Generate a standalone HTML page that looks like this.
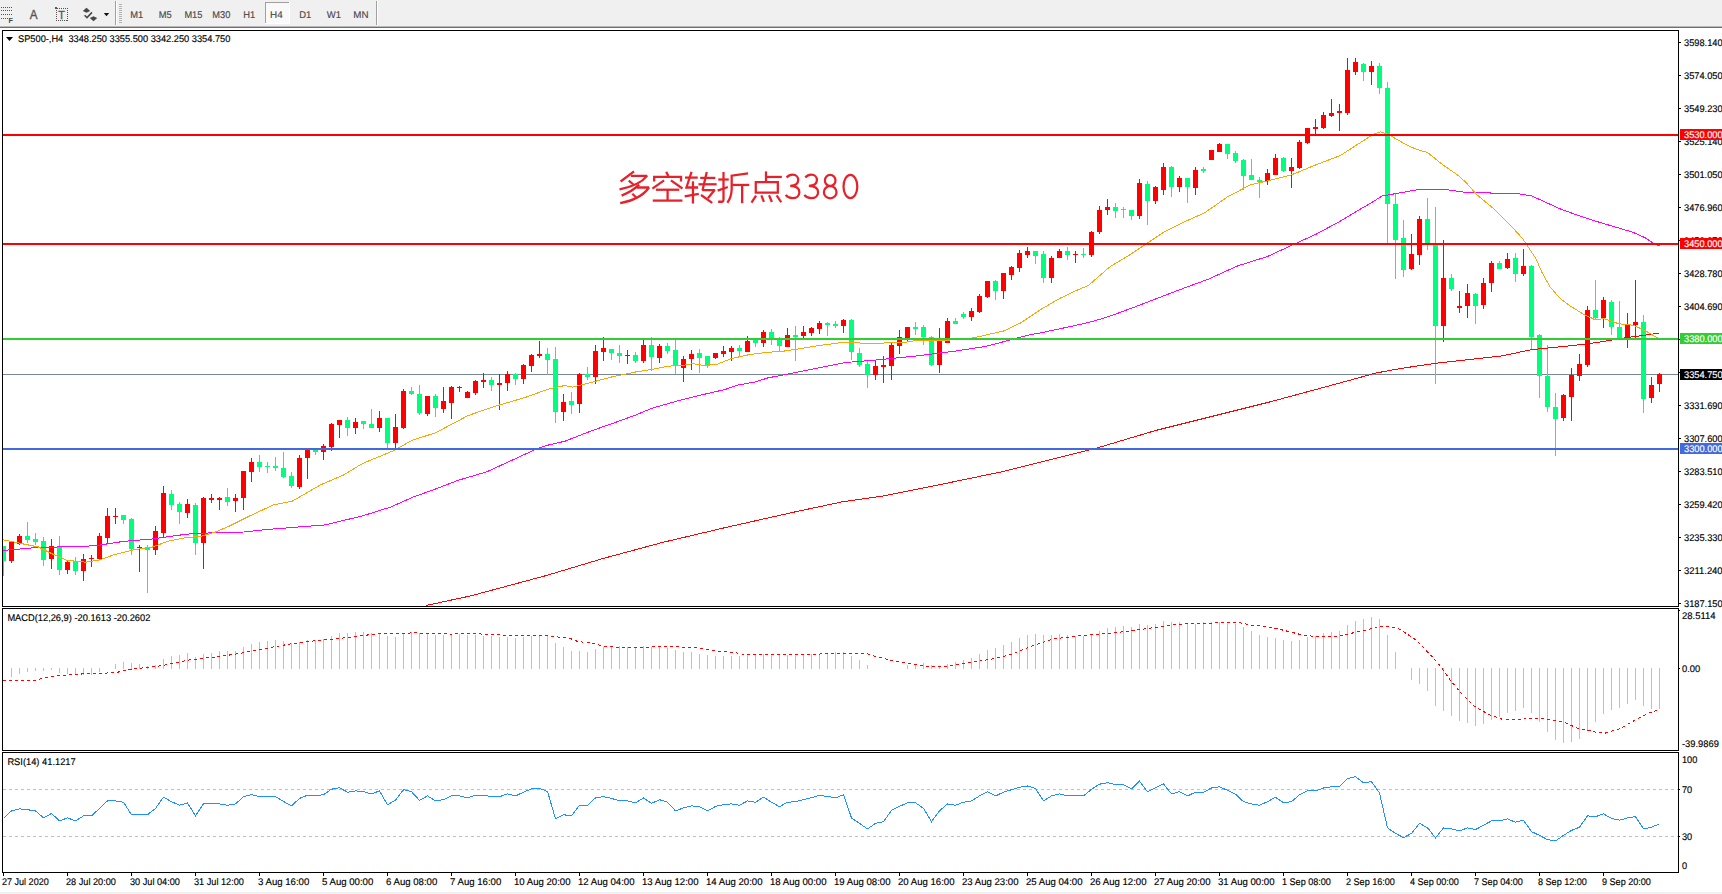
<!DOCTYPE html>
<html><head><meta charset="utf-8"><title>SP500 H4</title>
<style>html,body{margin:0;padding:0;background:#fff;overflow:hidden}svg{display:block}text{font-family:"Liberation Sans",sans-serif;white-space:pre}</style>
</head><body>
<svg width="1722" height="894" viewBox="0 0 1722 894" font-family="Liberation Sans, sans-serif" shape-rendering="crispEdges">
<rect x="0" y="0" width="1722" height="894" fill="#fff"/>
<rect x="0" y="0" width="1722" height="26" fill="#f0f0f0"/>
<rect x="0" y="26" width="1722" height="1" fill="#b9b9b9"/>
<rect x="0" y="27" width="1722" height="1" fill="#6e6e6e"/>
<g shape-rendering="auto">
<g stroke="#555" stroke-width="1" stroke-dasharray="1 1" shape-rendering="crispEdges">
<line x1="1" y1="7.5" x2="13" y2="7.5"/><line x1="1" y1="10.5" x2="13" y2="10.5"/><line x1="1" y1="14.5" x2="13" y2="14.5"/><line x1="1" y1="18.5" x2="8" y2="18.5"/>
<rect x="56.5" y="8.5" width="11" height="12" fill="none"/>
</g>
<text x="8.6" y="23" font-size="7.2" font-weight="bold" fill="#444">F</text>
<text x="29.8" y="19" font-size="12.8" fill="#555" stroke="#555" stroke-width="0.35" textLength="7.8" lengthAdjust="spacingAndGlyphs">A</text>
<text x="58.2" y="18.9" font-size="10.8" fill="#555" stroke="#555" stroke-width="0.3">T</text>
<rect x="55" y="7" width="2" height="2" fill="#555"/>
<path d="M86.5,7.8 L90.2,11 L86.5,12.8 L82.8,11 Z" fill="#484848"/>
<path d="M93.5,21.2 L89.8,18 L93.5,16.2 L97.2,18 Z" fill="#484848"/>
<path d="M84.6,15.2 L87,17.6 L92,12.4" fill="none" stroke="#4a4a4a" stroke-width="1.6"/>
<path d="M103.8,12.9 L109.2,12.9 L106.5,16.3 Z" fill="#111"/>
</g>
<rect x="115" y="1" width="1" height="24" fill="#a0a0a0"/><rect x="116" y="1" width="1" height="24" fill="#fff"/>
<rect x="376" y="1" width="1" height="24" fill="#a0a0a0"/><rect x="377" y="1" width="1" height="24" fill="#fff"/>
<line x1="120.5" y1="4" x2="120.5" y2="23" stroke="#b4b4b4" stroke-width="3" stroke-dasharray="1 1"/>
<rect x="265" y="2" width="25" height="22" fill="#f9f9f9"/>
<rect x="265" y="2" width="25" height="1" fill="#a0a0a0"/><rect x="265" y="2" width="1" height="22" fill="#a0a0a0"/>
<rect x="265" y="23" width="25" height="1" fill="#fff"/><rect x="289" y="2" width="1" height="22" fill="#fff"/>
<g font-size="9.9" fill="#484848" stroke="#484848" stroke-width="0.15" text-rendering="geometricPrecision" shape-rendering="auto">
<text x="130.2" y="18" textLength="13" lengthAdjust="spacingAndGlyphs">M1</text>
<text x="158.7" y="18" textLength="13" lengthAdjust="spacingAndGlyphs">M5</text>
<text x="184.4" y="18" textLength="18" lengthAdjust="spacingAndGlyphs">M15</text>
<text x="212.3" y="18" textLength="18" lengthAdjust="spacingAndGlyphs">M30</text>
<text x="243.2" y="18" textLength="12" lengthAdjust="spacingAndGlyphs">H1</text>
<text x="270.1" y="18" textLength="12.6" lengthAdjust="spacingAndGlyphs">H4</text>
<text x="299.2" y="18" textLength="12" lengthAdjust="spacingAndGlyphs">D1</text>
<text x="326.8" y="18" textLength="14.2" lengthAdjust="spacingAndGlyphs">W1</text>
<text x="353.3" y="18" textLength="15.2" lengthAdjust="spacingAndGlyphs">MN</text>
</g>

<rect x="0" y="892" width="1722" height="2" fill="#f0f0f0"/>
<rect x="2" y="30" width="1677" height="1" fill="#000"/>
<rect x="2" y="30" width="1" height="577" fill="#000"/>
<rect x="2" y="606" width="1677" height="1" fill="#000"/>
<rect x="1678" y="30" width="1" height="577" fill="#000"/>
<rect x="2" y="608" width="1677" height="1" fill="#000"/>
<rect x="2" y="608" width="1" height="143" fill="#000"/>
<rect x="2" y="750" width="1677" height="1" fill="#000"/>
<rect x="1678" y="608" width="1" height="143" fill="#000"/>
<rect x="2" y="752" width="1677" height="1" fill="#000"/>
<rect x="2" y="752" width="1" height="121" fill="#000"/>
<rect x="2" y="872" width="1677" height="1" fill="#000"/>
<rect x="1678" y="752" width="1" height="121" fill="#000"/>
<rect x="3" y="374" width="1675" height="1" fill="#778899"/>
<!--MAIN-->
<rect x="3" y="546" width="1" height="30" fill="#00ff7f"/>
<rect x="3" y="546" width="3" height="15" fill="#00ff7f"/>
<rect x="11" y="541" width="1" height="22" fill="#ff0000"/>
<rect x="9" y="542" width="5" height="19" fill="#ff0000"/>
<rect x="19" y="534" width="1" height="11" fill="#ff0000"/>
<rect x="17" y="536" width="5" height="8" fill="#ff0000"/>
<rect x="27" y="522" width="1" height="21" fill="#00ff7f"/>
<rect x="25" y="536" width="5" height="4" fill="#00ff7f"/>
<rect x="35" y="533" width="1" height="12" fill="#00ff7f"/>
<rect x="33" y="539" width="5" height="3" fill="#00ff7f"/>
<rect x="43" y="537" width="1" height="29" fill="#00ff7f"/>
<rect x="41" y="541" width="5" height="19" fill="#00ff7f"/>
<rect x="51" y="539" width="1" height="30" fill="#ff0000"/>
<rect x="49" y="546" width="5" height="13" fill="#ff0000"/>
<rect x="59" y="536" width="1" height="39" fill="#00ff7f"/>
<rect x="57" y="546" width="5" height="24" fill="#00ff7f"/>
<rect x="67" y="560" width="1" height="14" fill="#ff0000"/>
<rect x="65" y="562" width="5" height="8" fill="#ff0000"/>
<rect x="75" y="557" width="1" height="18" fill="#00ff7f"/>
<rect x="73" y="561" width="5" height="10" fill="#00ff7f"/>
<rect x="83" y="554" width="1" height="27" fill="#ff0000"/>
<rect x="81" y="559" width="5" height="12" fill="#ff0000"/>
<rect x="91" y="555" width="1" height="12" fill="#ff0000"/>
<rect x="89" y="558" width="5" height="1" fill="#ff0000"/>
<rect x="99" y="533" width="1" height="26" fill="#ff0000"/>
<rect x="97" y="536" width="5" height="23" fill="#ff0000"/>
<rect x="107" y="508" width="1" height="35" fill="#ff0000"/>
<rect x="105" y="516" width="5" height="22" fill="#ff0000"/>
<rect x="115" y="508" width="1" height="16" fill="#ff0000"/>
<rect x="113" y="516" width="5" height="1" fill="#ff0000"/>
<rect x="123" y="515" width="1" height="9" fill="#00ff7f"/>
<rect x="121" y="515" width="5" height="5" fill="#00ff7f"/>
<rect x="131" y="518" width="1" height="37" fill="#00ff7f"/>
<rect x="129" y="519" width="5" height="30" fill="#00ff7f"/>
<rect x="139" y="545" width="1" height="27" fill="#ff0000"/>
<rect x="137" y="547" width="5" height="1" fill="#ff0000"/>
<rect x="147" y="545" width="1" height="48" fill="#00ff7f"/>
<rect x="145" y="547" width="5" height="3" fill="#00ff7f"/>
<rect x="155" y="526" width="1" height="29" fill="#ff0000"/>
<rect x="153" y="531" width="5" height="19" fill="#ff0000"/>
<rect x="163" y="486" width="1" height="51" fill="#ff0000"/>
<rect x="161" y="493" width="5" height="40" fill="#ff0000"/>
<rect x="171" y="490" width="1" height="20" fill="#00ff7f"/>
<rect x="169" y="494" width="5" height="11" fill="#00ff7f"/>
<rect x="179" y="502" width="1" height="22" fill="#00ff7f"/>
<rect x="177" y="504" width="5" height="8" fill="#00ff7f"/>
<rect x="187" y="499" width="1" height="19" fill="#ff0000"/>
<rect x="185" y="504" width="5" height="9" fill="#ff0000"/>
<rect x="195" y="503" width="1" height="52" fill="#00ff7f"/>
<rect x="193" y="505" width="5" height="38" fill="#00ff7f"/>
<rect x="203" y="497" width="1" height="72" fill="#ff0000"/>
<rect x="201" y="498" width="5" height="45" fill="#ff0000"/>
<rect x="211" y="494" width="1" height="9" fill="#ff0000"/>
<rect x="209" y="498" width="5" height="2" fill="#ff0000"/>
<rect x="219" y="497" width="1" height="13" fill="#ff0000"/>
<rect x="217" y="498" width="5" height="2" fill="#ff0000"/>
<rect x="227" y="488" width="1" height="18" fill="#00ff7f"/>
<rect x="225" y="497" width="5" height="5" fill="#00ff7f"/>
<rect x="235" y="494" width="1" height="18" fill="#ff0000"/>
<rect x="233" y="498" width="5" height="3" fill="#ff0000"/>
<rect x="243" y="471" width="1" height="39" fill="#ff0000"/>
<rect x="241" y="471" width="5" height="27" fill="#ff0000"/>
<rect x="251" y="458" width="1" height="24" fill="#ff0000"/>
<rect x="249" y="462" width="5" height="10" fill="#ff0000"/>
<rect x="259" y="455" width="1" height="17" fill="#00ff7f"/>
<rect x="257" y="462" width="5" height="5" fill="#00ff7f"/>
<rect x="267" y="462" width="1" height="11" fill="#00ff7f"/>
<rect x="265" y="466" width="5" height="1" fill="#00ff7f"/>
<rect x="275" y="457" width="1" height="14" fill="#00ff7f"/>
<rect x="273" y="466" width="5" height="2" fill="#00ff7f"/>
<rect x="283" y="452" width="1" height="26" fill="#00ff7f"/>
<rect x="281" y="468" width="5" height="9" fill="#00ff7f"/>
<rect x="291" y="472" width="1" height="16" fill="#00ff7f"/>
<rect x="289" y="476" width="5" height="10" fill="#00ff7f"/>
<rect x="299" y="455" width="1" height="34" fill="#ff0000"/>
<rect x="297" y="458" width="5" height="29" fill="#ff0000"/>
<rect x="307" y="450" width="1" height="29" fill="#ff0000"/>
<rect x="305" y="450" width="5" height="8" fill="#ff0000"/>
<rect x="315" y="450" width="1" height="5" fill="#00ff7f"/>
<rect x="313" y="450" width="5" height="2" fill="#00ff7f"/>
<rect x="323" y="444" width="1" height="16" fill="#ff0000"/>
<rect x="321" y="446" width="5" height="6" fill="#ff0000"/>
<rect x="331" y="423" width="1" height="28" fill="#ff0000"/>
<rect x="329" y="424" width="5" height="23" fill="#ff0000"/>
<rect x="339" y="420" width="1" height="18" fill="#ff0000"/>
<rect x="337" y="420" width="5" height="5" fill="#ff0000"/>
<rect x="347" y="417" width="1" height="19" fill="#00ff7f"/>
<rect x="345" y="420" width="5" height="8" fill="#00ff7f"/>
<rect x="355" y="418" width="1" height="16" fill="#ff0000"/>
<rect x="353" y="422" width="5" height="6" fill="#ff0000"/>
<rect x="363" y="421" width="1" height="8" fill="#00ff7f"/>
<rect x="361" y="421" width="5" height="3" fill="#00ff7f"/>
<rect x="371" y="409" width="1" height="19" fill="#00ff7f"/>
<rect x="369" y="424" width="5" height="4" fill="#00ff7f"/>
<rect x="379" y="411" width="1" height="21" fill="#ff0000"/>
<rect x="377" y="418" width="5" height="10" fill="#ff0000"/>
<rect x="387" y="418" width="1" height="30" fill="#00ff7f"/>
<rect x="385" y="418" width="5" height="25" fill="#00ff7f"/>
<rect x="395" y="414" width="1" height="34" fill="#ff0000"/>
<rect x="393" y="427" width="5" height="16" fill="#ff0000"/>
<rect x="403" y="389" width="1" height="40" fill="#ff0000"/>
<rect x="401" y="391" width="5" height="37" fill="#ff0000"/>
<rect x="411" y="387" width="1" height="8" fill="#00ff7f"/>
<rect x="409" y="391" width="5" height="3" fill="#00ff7f"/>
<rect x="419" y="385" width="1" height="30" fill="#00ff7f"/>
<rect x="417" y="394" width="5" height="19" fill="#00ff7f"/>
<rect x="427" y="396" width="1" height="20" fill="#ff0000"/>
<rect x="425" y="396" width="5" height="18" fill="#ff0000"/>
<rect x="435" y="394" width="1" height="23" fill="#00ff7f"/>
<rect x="433" y="396" width="5" height="12" fill="#00ff7f"/>
<rect x="443" y="387" width="1" height="26" fill="#ff0000"/>
<rect x="441" y="401" width="5" height="8" fill="#ff0000"/>
<rect x="451" y="386" width="1" height="33" fill="#ff0000"/>
<rect x="449" y="387" width="5" height="16" fill="#ff0000"/>
<rect x="459" y="386" width="1" height="6" fill="#ff0000"/>
<rect x="457" y="387" width="5" height="1" fill="#ff0000"/>
<rect x="467" y="391" width="1" height="7" fill="#ff0000"/>
<rect x="465" y="392" width="5" height="6" fill="#ff0000"/>
<rect x="475" y="380" width="1" height="15" fill="#ff0000"/>
<rect x="473" y="381" width="5" height="12" fill="#ff0000"/>
<rect x="483" y="373" width="1" height="15" fill="#ff0000"/>
<rect x="481" y="380" width="5" height="2" fill="#ff0000"/>
<rect x="491" y="377" width="1" height="14" fill="#00ff7f"/>
<rect x="489" y="380" width="5" height="5" fill="#00ff7f"/>
<rect x="499" y="374" width="1" height="36" fill="#ff0000"/>
<rect x="497" y="383" width="5" height="2" fill="#ff0000"/>
<rect x="507" y="371" width="1" height="20" fill="#ff0000"/>
<rect x="505" y="374" width="5" height="9" fill="#ff0000"/>
<rect x="515" y="373" width="1" height="12" fill="#00ff7f"/>
<rect x="513" y="374" width="5" height="5" fill="#00ff7f"/>
<rect x="523" y="364" width="1" height="20" fill="#ff0000"/>
<rect x="521" y="365" width="5" height="14" fill="#ff0000"/>
<rect x="531" y="354" width="1" height="18" fill="#ff0000"/>
<rect x="529" y="355" width="5" height="11" fill="#ff0000"/>
<rect x="539" y="341" width="1" height="17" fill="#ff0000"/>
<rect x="537" y="354" width="5" height="2" fill="#ff0000"/>
<rect x="547" y="348" width="1" height="27" fill="#00ff7f"/>
<rect x="545" y="354" width="5" height="6" fill="#00ff7f"/>
<rect x="555" y="347" width="1" height="76" fill="#00ff7f"/>
<rect x="553" y="359" width="5" height="53" fill="#00ff7f"/>
<rect x="563" y="394" width="1" height="27" fill="#ff0000"/>
<rect x="561" y="402" width="5" height="10" fill="#ff0000"/>
<rect x="571" y="392" width="1" height="22" fill="#00ff7f"/>
<rect x="569" y="401" width="5" height="4" fill="#00ff7f"/>
<rect x="579" y="373" width="1" height="40" fill="#ff0000"/>
<rect x="577" y="374" width="5" height="30" fill="#ff0000"/>
<rect x="587" y="367" width="1" height="13" fill="#00ff7f"/>
<rect x="585" y="374" width="5" height="3" fill="#00ff7f"/>
<rect x="595" y="345" width="1" height="39" fill="#ff0000"/>
<rect x="593" y="351" width="5" height="26" fill="#ff0000"/>
<rect x="603" y="337" width="1" height="24" fill="#ff0000"/>
<rect x="601" y="348" width="5" height="4" fill="#ff0000"/>
<rect x="611" y="349" width="1" height="11" fill="#00ff7f"/>
<rect x="609" y="349" width="5" height="4" fill="#00ff7f"/>
<rect x="619" y="345" width="1" height="18" fill="#00ff7f"/>
<rect x="617" y="353" width="5" height="3" fill="#00ff7f"/>
<rect x="627" y="350" width="1" height="14" fill="#ff0000"/>
<rect x="625" y="355" width="5" height="1" fill="#ff0000"/>
<rect x="635" y="352" width="1" height="11" fill="#00ff7f"/>
<rect x="633" y="355" width="5" height="6" fill="#00ff7f"/>
<rect x="643" y="340" width="1" height="23" fill="#ff0000"/>
<rect x="641" y="345" width="5" height="16" fill="#ff0000"/>
<rect x="651" y="337" width="1" height="34" fill="#00ff7f"/>
<rect x="649" y="345" width="5" height="12" fill="#00ff7f"/>
<rect x="659" y="344" width="1" height="19" fill="#ff0000"/>
<rect x="657" y="346" width="5" height="12" fill="#ff0000"/>
<rect x="667" y="343" width="1" height="11" fill="#00ff7f"/>
<rect x="665" y="346" width="5" height="5" fill="#00ff7f"/>
<rect x="675" y="340" width="1" height="34" fill="#00ff7f"/>
<rect x="673" y="350" width="5" height="16" fill="#00ff7f"/>
<rect x="683" y="356" width="1" height="26" fill="#ff0000"/>
<rect x="681" y="359" width="5" height="9" fill="#ff0000"/>
<rect x="691" y="350" width="1" height="20" fill="#ff0000"/>
<rect x="689" y="354" width="5" height="5" fill="#ff0000"/>
<rect x="699" y="349" width="1" height="24" fill="#00ff7f"/>
<rect x="697" y="353" width="5" height="5" fill="#00ff7f"/>
<rect x="707" y="356" width="1" height="12" fill="#00ff7f"/>
<rect x="705" y="356" width="5" height="10" fill="#00ff7f"/>
<rect x="715" y="353" width="1" height="6" fill="#ff0000"/>
<rect x="713" y="353" width="5" height="5" fill="#ff0000"/>
<rect x="723" y="346" width="1" height="11" fill="#ff0000"/>
<rect x="721" y="351" width="5" height="3" fill="#ff0000"/>
<rect x="731" y="346" width="1" height="15" fill="#ff0000"/>
<rect x="729" y="348" width="5" height="4" fill="#ff0000"/>
<rect x="739" y="345" width="1" height="11" fill="#00ff7f"/>
<rect x="737" y="348" width="5" height="3" fill="#00ff7f"/>
<rect x="747" y="336" width="1" height="16" fill="#ff0000"/>
<rect x="745" y="341" width="5" height="11" fill="#ff0000"/>
<rect x="755" y="340" width="1" height="7" fill="#00ff7f"/>
<rect x="753" y="340" width="5" height="3" fill="#00ff7f"/>
<rect x="763" y="330" width="1" height="17" fill="#ff0000"/>
<rect x="761" y="332" width="5" height="11" fill="#ff0000"/>
<rect x="771" y="329" width="1" height="16" fill="#00ff7f"/>
<rect x="769" y="332" width="5" height="7" fill="#00ff7f"/>
<rect x="779" y="337" width="1" height="14" fill="#00ff7f"/>
<rect x="777" y="340" width="5" height="6" fill="#00ff7f"/>
<rect x="787" y="328" width="1" height="19" fill="#ff0000"/>
<rect x="785" y="335" width="5" height="12" fill="#ff0000"/>
<rect x="795" y="326" width="1" height="35" fill="#00ff7f"/>
<rect x="793" y="335" width="5" height="2" fill="#00ff7f"/>
<rect x="803" y="326" width="1" height="12" fill="#ff0000"/>
<rect x="801" y="332" width="5" height="4" fill="#ff0000"/>
<rect x="811" y="327" width="1" height="9" fill="#ff0000"/>
<rect x="809" y="328" width="5" height="5" fill="#ff0000"/>
<rect x="819" y="321" width="1" height="13" fill="#ff0000"/>
<rect x="817" y="323" width="5" height="6" fill="#ff0000"/>
<rect x="827" y="322" width="1" height="14" fill="#00ff7f"/>
<rect x="825" y="323" width="5" height="2" fill="#00ff7f"/>
<rect x="835" y="321" width="1" height="7" fill="#00ff7f"/>
<rect x="833" y="324" width="5" height="2" fill="#00ff7f"/>
<rect x="843" y="319" width="1" height="14" fill="#ff0000"/>
<rect x="841" y="320" width="5" height="6" fill="#ff0000"/>
<rect x="851" y="319" width="1" height="41" fill="#00ff7f"/>
<rect x="849" y="320" width="5" height="32" fill="#00ff7f"/>
<rect x="859" y="348" width="1" height="19" fill="#00ff7f"/>
<rect x="857" y="353" width="5" height="12" fill="#00ff7f"/>
<rect x="867" y="361" width="1" height="27" fill="#00ff7f"/>
<rect x="865" y="364" width="5" height="11" fill="#00ff7f"/>
<rect x="875" y="361" width="1" height="19" fill="#ff0000"/>
<rect x="873" y="366" width="5" height="9" fill="#ff0000"/>
<rect x="883" y="356" width="1" height="27" fill="#ff0000"/>
<rect x="881" y="365" width="5" height="2" fill="#ff0000"/>
<rect x="891" y="343" width="1" height="37" fill="#ff0000"/>
<rect x="889" y="345" width="5" height="21" fill="#ff0000"/>
<rect x="899" y="330" width="1" height="24" fill="#ff0000"/>
<rect x="897" y="337" width="5" height="9" fill="#ff0000"/>
<rect x="907" y="327" width="1" height="14" fill="#ff0000"/>
<rect x="905" y="327" width="5" height="12" fill="#ff0000"/>
<rect x="915" y="322" width="1" height="13" fill="#00ff7f"/>
<rect x="913" y="327" width="5" height="2" fill="#00ff7f"/>
<rect x="923" y="325" width="1" height="20" fill="#00ff7f"/>
<rect x="921" y="327" width="5" height="10" fill="#00ff7f"/>
<rect x="931" y="336" width="1" height="30" fill="#00ff7f"/>
<rect x="929" y="337" width="5" height="28" fill="#00ff7f"/>
<rect x="939" y="328" width="1" height="45" fill="#ff0000"/>
<rect x="937" y="341" width="5" height="24" fill="#ff0000"/>
<rect x="947" y="318" width="1" height="25" fill="#ff0000"/>
<rect x="945" y="321" width="5" height="22" fill="#ff0000"/>
<rect x="955" y="318" width="1" height="6" fill="#00ff7f"/>
<rect x="953" y="321" width="5" height="3" fill="#00ff7f"/>
<rect x="963" y="312" width="1" height="7" fill="#00ff7f"/>
<rect x="961" y="314" width="5" height="3" fill="#00ff7f"/>
<rect x="971" y="308" width="1" height="13" fill="#ff0000"/>
<rect x="969" y="311" width="5" height="6" fill="#ff0000"/>
<rect x="979" y="294" width="1" height="19" fill="#ff0000"/>
<rect x="977" y="296" width="5" height="16" fill="#ff0000"/>
<rect x="987" y="281" width="1" height="17" fill="#ff0000"/>
<rect x="985" y="281" width="5" height="16" fill="#ff0000"/>
<rect x="995" y="280" width="1" height="20" fill="#00ff7f"/>
<rect x="993" y="281" width="5" height="10" fill="#00ff7f"/>
<rect x="1003" y="273" width="1" height="26" fill="#ff0000"/>
<rect x="1001" y="273" width="5" height="18" fill="#ff0000"/>
<rect x="1011" y="266" width="1" height="14" fill="#ff0000"/>
<rect x="1009" y="267" width="5" height="8" fill="#ff0000"/>
<rect x="1019" y="250" width="1" height="22" fill="#ff0000"/>
<rect x="1017" y="253" width="5" height="15" fill="#ff0000"/>
<rect x="1027" y="247" width="1" height="11" fill="#ff0000"/>
<rect x="1025" y="251" width="5" height="4" fill="#ff0000"/>
<rect x="1035" y="251" width="1" height="13" fill="#00ff7f"/>
<rect x="1033" y="251" width="5" height="5" fill="#00ff7f"/>
<rect x="1043" y="251" width="1" height="32" fill="#00ff7f"/>
<rect x="1041" y="254" width="5" height="24" fill="#00ff7f"/>
<rect x="1051" y="256" width="1" height="27" fill="#ff0000"/>
<rect x="1049" y="258" width="5" height="20" fill="#ff0000"/>
<rect x="1059" y="249" width="1" height="9" fill="#ff0000"/>
<rect x="1057" y="251" width="5" height="7" fill="#ff0000"/>
<rect x="1067" y="247" width="1" height="13" fill="#00ff7f"/>
<rect x="1065" y="251" width="5" height="4" fill="#00ff7f"/>
<rect x="1075" y="251" width="1" height="12" fill="#ff0000"/>
<rect x="1073" y="254" width="5" height="1" fill="#ff0000"/>
<rect x="1083" y="248" width="1" height="10" fill="#00ff7f"/>
<rect x="1081" y="254" width="5" height="1" fill="#00ff7f"/>
<rect x="1091" y="231" width="1" height="26" fill="#ff0000"/>
<rect x="1089" y="232" width="5" height="23" fill="#ff0000"/>
<rect x="1099" y="206" width="1" height="28" fill="#ff0000"/>
<rect x="1097" y="210" width="5" height="22" fill="#ff0000"/>
<rect x="1107" y="199" width="1" height="16" fill="#ff0000"/>
<rect x="1105" y="207" width="5" height="3" fill="#ff0000"/>
<rect x="1115" y="203" width="1" height="15" fill="#00ff7f"/>
<rect x="1113" y="207" width="5" height="4" fill="#00ff7f"/>
<rect x="1123" y="207" width="1" height="11" fill="#00ff7f"/>
<rect x="1121" y="209" width="5" height="1" fill="#00ff7f"/>
<rect x="1131" y="210" width="1" height="10" fill="#00ff7f"/>
<rect x="1129" y="210" width="5" height="6" fill="#00ff7f"/>
<rect x="1139" y="179" width="1" height="40" fill="#ff0000"/>
<rect x="1137" y="183" width="5" height="33" fill="#ff0000"/>
<rect x="1147" y="181" width="1" height="44" fill="#00ff7f"/>
<rect x="1145" y="184" width="5" height="17" fill="#00ff7f"/>
<rect x="1155" y="186" width="1" height="18" fill="#ff0000"/>
<rect x="1153" y="187" width="5" height="14" fill="#ff0000"/>
<rect x="1163" y="163" width="1" height="32" fill="#ff0000"/>
<rect x="1161" y="167" width="5" height="23" fill="#ff0000"/>
<rect x="1171" y="166" width="1" height="31" fill="#00ff7f"/>
<rect x="1169" y="167" width="5" height="20" fill="#00ff7f"/>
<rect x="1179" y="176" width="1" height="16" fill="#ff0000"/>
<rect x="1177" y="178" width="5" height="9" fill="#ff0000"/>
<rect x="1187" y="178" width="1" height="25" fill="#00ff7f"/>
<rect x="1185" y="178" width="5" height="9" fill="#00ff7f"/>
<rect x="1195" y="167" width="1" height="28" fill="#ff0000"/>
<rect x="1193" y="170" width="5" height="18" fill="#ff0000"/>
<rect x="1203" y="167" width="1" height="6" fill="#00ff7f"/>
<rect x="1201" y="169" width="5" height="2" fill="#00ff7f"/>
<rect x="1211" y="150" width="1" height="10" fill="#ff0000"/>
<rect x="1209" y="150" width="5" height="10" fill="#ff0000"/>
<rect x="1219" y="143" width="1" height="9" fill="#ff0000"/>
<rect x="1217" y="144" width="5" height="8" fill="#ff0000"/>
<rect x="1227" y="144" width="1" height="15" fill="#00ff7f"/>
<rect x="1225" y="144" width="5" height="10" fill="#00ff7f"/>
<rect x="1235" y="151" width="1" height="12" fill="#00ff7f"/>
<rect x="1233" y="153" width="5" height="8" fill="#00ff7f"/>
<rect x="1243" y="159" width="1" height="31" fill="#00ff7f"/>
<rect x="1241" y="160" width="5" height="16" fill="#00ff7f"/>
<rect x="1251" y="159" width="1" height="21" fill="#00ff7f"/>
<rect x="1249" y="175" width="5" height="5" fill="#00ff7f"/>
<rect x="1259" y="177" width="1" height="21" fill="#00ff7f"/>
<rect x="1257" y="180" width="5" height="2" fill="#00ff7f"/>
<rect x="1267" y="169" width="1" height="16" fill="#ff0000"/>
<rect x="1265" y="173" width="5" height="8" fill="#ff0000"/>
<rect x="1275" y="154" width="1" height="21" fill="#ff0000"/>
<rect x="1273" y="158" width="5" height="17" fill="#ff0000"/>
<rect x="1283" y="157" width="1" height="15" fill="#00ff7f"/>
<rect x="1281" y="158" width="5" height="13" fill="#00ff7f"/>
<rect x="1291" y="158" width="1" height="30" fill="#ff0000"/>
<rect x="1289" y="167" width="5" height="4" fill="#ff0000"/>
<rect x="1299" y="140" width="1" height="29" fill="#ff0000"/>
<rect x="1297" y="142" width="5" height="26" fill="#ff0000"/>
<rect x="1307" y="128" width="1" height="16" fill="#ff0000"/>
<rect x="1305" y="128" width="5" height="15" fill="#ff0000"/>
<rect x="1315" y="119" width="1" height="15" fill="#ff0000"/>
<rect x="1313" y="127" width="5" height="2" fill="#ff0000"/>
<rect x="1323" y="112" width="1" height="17" fill="#ff0000"/>
<rect x="1321" y="115" width="5" height="13" fill="#ff0000"/>
<rect x="1331" y="99" width="1" height="18" fill="#ff0000"/>
<rect x="1329" y="113" width="5" height="3" fill="#ff0000"/>
<rect x="1339" y="104" width="1" height="27" fill="#ff0000"/>
<rect x="1337" y="111" width="5" height="2" fill="#ff0000"/>
<rect x="1347" y="58" width="1" height="57" fill="#ff0000"/>
<rect x="1345" y="70" width="5" height="43" fill="#ff0000"/>
<rect x="1355" y="58" width="1" height="17" fill="#ff0000"/>
<rect x="1353" y="62" width="5" height="10" fill="#ff0000"/>
<rect x="1363" y="63" width="1" height="18" fill="#00ff7f"/>
<rect x="1361" y="64" width="5" height="8" fill="#00ff7f"/>
<rect x="1371" y="61" width="1" height="24" fill="#ff0000"/>
<rect x="1369" y="66" width="5" height="6" fill="#ff0000"/>
<rect x="1379" y="63" width="1" height="31" fill="#00ff7f"/>
<rect x="1377" y="66" width="5" height="22" fill="#00ff7f"/>
<rect x="1387" y="82" width="1" height="161" fill="#00ff7f"/>
<rect x="1385" y="88" width="5" height="116" fill="#00ff7f"/>
<rect x="1395" y="194" width="1" height="85" fill="#00ff7f"/>
<rect x="1393" y="204" width="5" height="36" fill="#00ff7f"/>
<rect x="1403" y="220" width="1" height="57" fill="#00ff7f"/>
<rect x="1401" y="238" width="5" height="32" fill="#00ff7f"/>
<rect x="1411" y="234" width="1" height="36" fill="#ff0000"/>
<rect x="1409" y="254" width="5" height="15" fill="#ff0000"/>
<rect x="1419" y="216" width="1" height="49" fill="#ff0000"/>
<rect x="1417" y="219" width="5" height="36" fill="#ff0000"/>
<rect x="1427" y="198" width="1" height="52" fill="#00ff7f"/>
<rect x="1425" y="219" width="5" height="24" fill="#00ff7f"/>
<rect x="1435" y="207" width="1" height="177" fill="#00ff7f"/>
<rect x="1433" y="243" width="5" height="83" fill="#00ff7f"/>
<rect x="1443" y="240" width="1" height="102" fill="#ff0000"/>
<rect x="1441" y="278" width="5" height="48" fill="#ff0000"/>
<rect x="1451" y="274" width="1" height="17" fill="#00ff7f"/>
<rect x="1449" y="278" width="5" height="11" fill="#00ff7f"/>
<rect x="1459" y="291" width="1" height="22" fill="#ff0000"/>
<rect x="1457" y="306" width="5" height="2" fill="#ff0000"/>
<rect x="1467" y="284" width="1" height="34" fill="#ff0000"/>
<rect x="1465" y="293" width="5" height="13" fill="#ff0000"/>
<rect x="1475" y="293" width="1" height="31" fill="#00ff7f"/>
<rect x="1473" y="294" width="5" height="12" fill="#00ff7f"/>
<rect x="1483" y="278" width="1" height="31" fill="#ff0000"/>
<rect x="1481" y="283" width="5" height="22" fill="#ff0000"/>
<rect x="1491" y="261" width="1" height="31" fill="#ff0000"/>
<rect x="1489" y="263" width="5" height="20" fill="#ff0000"/>
<rect x="1499" y="261" width="1" height="8" fill="#00ff7f"/>
<rect x="1497" y="263" width="5" height="6" fill="#00ff7f"/>
<rect x="1507" y="253" width="1" height="16" fill="#ff0000"/>
<rect x="1505" y="259" width="5" height="9" fill="#ff0000"/>
<rect x="1515" y="253" width="1" height="29" fill="#00ff7f"/>
<rect x="1513" y="258" width="5" height="16" fill="#00ff7f"/>
<rect x="1523" y="249" width="1" height="27" fill="#ff0000"/>
<rect x="1521" y="266" width="5" height="8" fill="#ff0000"/>
<rect x="1531" y="265" width="1" height="84" fill="#00ff7f"/>
<rect x="1529" y="266" width="5" height="71" fill="#00ff7f"/>
<rect x="1539" y="334" width="1" height="64" fill="#00ff7f"/>
<rect x="1537" y="335" width="5" height="41" fill="#00ff7f"/>
<rect x="1547" y="345" width="1" height="67" fill="#00ff7f"/>
<rect x="1545" y="376" width="5" height="31" fill="#00ff7f"/>
<rect x="1555" y="393" width="1" height="63" fill="#00ff7f"/>
<rect x="1553" y="407" width="5" height="12" fill="#00ff7f"/>
<rect x="1563" y="394" width="1" height="27" fill="#ff0000"/>
<rect x="1561" y="395" width="5" height="23" fill="#ff0000"/>
<rect x="1571" y="368" width="1" height="53" fill="#ff0000"/>
<rect x="1569" y="375" width="5" height="22" fill="#ff0000"/>
<rect x="1579" y="354" width="1" height="27" fill="#ff0000"/>
<rect x="1577" y="364" width="5" height="12" fill="#ff0000"/>
<rect x="1587" y="306" width="1" height="61" fill="#ff0000"/>
<rect x="1585" y="310" width="5" height="55" fill="#ff0000"/>
<rect x="1595" y="280" width="1" height="39" fill="#00ff7f"/>
<rect x="1593" y="310" width="5" height="8" fill="#00ff7f"/>
<rect x="1603" y="297" width="1" height="31" fill="#ff0000"/>
<rect x="1601" y="300" width="5" height="18" fill="#ff0000"/>
<rect x="1611" y="300" width="1" height="35" fill="#00ff7f"/>
<rect x="1609" y="302" width="5" height="25" fill="#00ff7f"/>
<rect x="1619" y="301" width="1" height="37" fill="#00ff7f"/>
<rect x="1617" y="327" width="5" height="11" fill="#00ff7f"/>
<rect x="1627" y="313" width="1" height="35" fill="#ff0000"/>
<rect x="1625" y="325" width="5" height="13" fill="#ff0000"/>
<rect x="1635" y="280" width="1" height="58" fill="#ff0000"/>
<rect x="1633" y="322" width="5" height="3" fill="#ff0000"/>
<rect x="1643" y="315" width="1" height="98" fill="#00ff7f"/>
<rect x="1641" y="322" width="5" height="77" fill="#00ff7f"/>
<rect x="1651" y="377" width="1" height="26" fill="#ff0000"/>
<rect x="1649" y="385" width="5" height="13" fill="#ff0000"/>
<rect x="1659" y="373" width="1" height="19" fill="#ff0000"/>
<rect x="1657" y="374" width="5" height="10" fill="#ff0000"/>
<polyline points="426.0,605.5 470.2,596.0 545.7,575.7 603.8,558.3 661.8,542.6 725.7,527.5 795.4,511.8 841.8,501.9 882.5,496.1 934.8,485.7 1004.5,471.2 1050.9,459.5 1097.4,447.9 1155.5,430.5 1213.5,416.0 1271.5,401.5 1329.5,385.8 1376.1,373.0 1400.5,368.5 1436.1,363.2 1500.5,356.1 1532.1,349.6 1548.0,348.0 1585.4,344.2 1607.0,340.9 1624.1,338.0 1659.3,333.2" fill="none" stroke="#ff0000" stroke-width="1"/>
<polyline points="3.4,550.4 38.5,547.4 76.5,546.6 95.5,545.7 124.1,541.3 152.5,539.0 186.8,534.1 215.5,532.6 239.0,532.5 267.5,529.4 324.5,525.0 362.5,515.9 391.1,506.9 412.0,497.5 433.8,489.7 458.5,480.2 487.1,471.7 534.6,449.8 546.0,445.6 565.0,441.2 591.6,430.8 620.2,420.7 635.5,415.1 651.5,408.4 678.0,400.8 702.5,394.7 725.5,389.4 737.0,385.2 756.0,381.8 767.5,378.0 792.1,373.2 820.5,367.5 845.5,362.5 878.5,359.8 916.5,356.0 954.5,351.2 985.0,346.5 1009.5,340.2 1030.5,334.5 1040.5,332.9 1070.1,326.6 1091.8,321.7 1109.6,316.3 1139.2,305.3 1178.7,290.1 1208.3,279.2 1237.9,265.8 1267.5,256.5 1295.2,243.7 1316.9,233.8 1340.6,221.0 1360.3,209.1 1370.5,203.3 1381.9,196.1 1418.0,189.6 1446.5,189.6 1465.5,192.3 1518.8,193.8 1532.1,196.1 1560.5,209.0 1578.5,215.6 1596.5,221.4 1614.5,226.8 1632.5,232.1 1645.5,237.9 1653.5,243.3 1659.5,246.0" fill="none" stroke="#ff00ff" stroke-width="1"/>
<polyline points="3.4,539.8 19.5,543.2 38.5,547.0 53.7,554.6 67.0,560.3 86.1,562.2 99.4,559.9 114.5,554.6 133.5,549.8 152.5,547.0 167.8,541.3 184.9,537.9 202.0,536.1 215.5,532.0 229.5,526.0 248.5,516.5 273.2,505.0 292.3,501.2 320.8,484.7 343.5,475.0 362.5,463.5 393.0,450.9 412.0,440.4 425.5,436.0 435.7,432.7 468.0,415.6 492.8,407.0 525.1,397.5 549.8,388.6 565.0,385.5 572.6,387.1 595.4,381.3 610.6,377.2 635.5,372.0 651.5,369.4 668.5,366.2 683.5,365.2 693.2,363.7 702.5,365.2 716.1,364.7 731.3,358.6 748.5,354.8 767.5,352.3 782.5,351.3 801.5,348.5 820.5,345.3 845.5,342.1 865.2,343.3 903.2,342.7 916.5,340.4 945.1,340.4 973.5,337.9 1004.0,330.9 1021.1,322.7 1040.2,309.8 1060.2,298.2 1078.1,289.7 1088.5,285.4 1109.5,267.1 1130.4,254.5 1144.5,245.0 1164.5,231.7 1183.5,222.2 1204.5,212.9 1227.5,196.9 1250.5,184.8 1265.5,181.3 1290.9,175.1 1315.5,165.0 1340.4,155.5 1359.4,143.2 1374.5,133.7 1380.3,131.8 1389.8,135.2 1405.0,144.1 1414.5,148.5 1427.8,152.7 1443.0,165.0 1458.3,175.5 1465.5,182.0 1477.0,194.8 1494.1,209.0 1511.2,226.1 1522.5,238.5 1535.9,258.5 1541.5,271.5 1549.9,286.7 1556.8,294.6 1563.2,300.9 1570.2,306.0 1584.2,314.6 1595.5,319.9 1604.1,318.6 1618.4,323.7 1633.5,325.3 1645.0,330.4 1657.4,338.0" fill="none" stroke="#ffa500" stroke-width="1"/>
<rect x="3" y="134" width="1675" height="2" fill="#ff0000"/>
<rect x="3" y="243" width="1675" height="2" fill="#ff0000"/>
<rect x="3" y="338" width="1675" height="2" fill="#32cd32"/>
<rect x="3" y="448" width="1675" height="2" fill="#4169e1"/>
<path d="M6,37 L13,37 L9.5,41 Z" fill="#000" shape-rendering="auto"/>
<text x="18" y="42" font-size="9.7" fill="#000" stroke="#000" stroke-width="0.15" text-rendering="geometricPrecision" textLength="212.4" lengthAdjust="spacingAndGlyphs">SP500-,H4  3348.250 3355.500 3342.250 3354.750</text>
<rect x="1679" y="42" width="2" height="1" fill="#000"/>
<text x="1684" y="46" font-size="9.7" fill="#000" stroke="#000" stroke-width="0.15" text-rendering="geometricPrecision" textLength="38.6" lengthAdjust="spacingAndGlyphs">3598.140</text>
<rect x="1679" y="75" width="2" height="1" fill="#000"/>
<text x="1684" y="79" font-size="9.7" fill="#000" stroke="#000" stroke-width="0.15" text-rendering="geometricPrecision" textLength="38.6" lengthAdjust="spacingAndGlyphs">3574.050</text>
<rect x="1679" y="108" width="2" height="1" fill="#000"/>
<text x="1684" y="112" font-size="9.7" fill="#000" stroke="#000" stroke-width="0.15" text-rendering="geometricPrecision" textLength="38.6" lengthAdjust="spacingAndGlyphs">3549.230</text>
<rect x="1679" y="141" width="2" height="1" fill="#000"/>
<text x="1684" y="145" font-size="9.7" fill="#000" stroke="#000" stroke-width="0.15" text-rendering="geometricPrecision" textLength="38.6" lengthAdjust="spacingAndGlyphs">3525.140</text>
<rect x="1679" y="174" width="2" height="1" fill="#000"/>
<text x="1684" y="178" font-size="9.7" fill="#000" stroke="#000" stroke-width="0.15" text-rendering="geometricPrecision" textLength="38.6" lengthAdjust="spacingAndGlyphs">3501.050</text>
<rect x="1679" y="207" width="2" height="1" fill="#000"/>
<text x="1684" y="211" font-size="9.7" fill="#000" stroke="#000" stroke-width="0.15" text-rendering="geometricPrecision" textLength="38.6" lengthAdjust="spacingAndGlyphs">3476.960</text>
<rect x="1679" y="240" width="2" height="1" fill="#000"/>
<text x="1684" y="244" font-size="9.7" fill="#000" stroke="#000" stroke-width="0.15" text-rendering="geometricPrecision" textLength="38.6" lengthAdjust="spacingAndGlyphs">3452.870</text>
<rect x="1679" y="273" width="2" height="1" fill="#000"/>
<text x="1684" y="277" font-size="9.7" fill="#000" stroke="#000" stroke-width="0.15" text-rendering="geometricPrecision" textLength="38.6" lengthAdjust="spacingAndGlyphs">3428.780</text>
<rect x="1679" y="306" width="2" height="1" fill="#000"/>
<text x="1684" y="310" font-size="9.7" fill="#000" stroke="#000" stroke-width="0.15" text-rendering="geometricPrecision" textLength="38.6" lengthAdjust="spacingAndGlyphs">3404.690</text>
<rect x="1679" y="339" width="2" height="1" fill="#000"/>
<text x="1684" y="343" font-size="9.7" fill="#000" stroke="#000" stroke-width="0.15" text-rendering="geometricPrecision" textLength="38.6" lengthAdjust="spacingAndGlyphs">3380.600</text>
<rect x="1679" y="372" width="2" height="1" fill="#000"/>
<text x="1684" y="376" font-size="9.7" fill="#000" stroke="#000" stroke-width="0.15" text-rendering="geometricPrecision" textLength="38.6" lengthAdjust="spacingAndGlyphs">3356.510</text>
<rect x="1679" y="405" width="2" height="1" fill="#000"/>
<text x="1684" y="409" font-size="9.7" fill="#000" stroke="#000" stroke-width="0.15" text-rendering="geometricPrecision" textLength="38.6" lengthAdjust="spacingAndGlyphs">3331.690</text>
<rect x="1679" y="438" width="2" height="1" fill="#000"/>
<text x="1684" y="442" font-size="9.7" fill="#000" stroke="#000" stroke-width="0.15" text-rendering="geometricPrecision" textLength="38.6" lengthAdjust="spacingAndGlyphs">3307.600</text>
<rect x="1679" y="471" width="2" height="1" fill="#000"/>
<text x="1684" y="475" font-size="9.7" fill="#000" stroke="#000" stroke-width="0.15" text-rendering="geometricPrecision" textLength="38.6" lengthAdjust="spacingAndGlyphs">3283.510</text>
<rect x="1679" y="504" width="2" height="1" fill="#000"/>
<text x="1684" y="508" font-size="9.7" fill="#000" stroke="#000" stroke-width="0.15" text-rendering="geometricPrecision" textLength="38.6" lengthAdjust="spacingAndGlyphs">3259.420</text>
<rect x="1679" y="537" width="2" height="1" fill="#000"/>
<text x="1684" y="541" font-size="9.7" fill="#000" stroke="#000" stroke-width="0.15" text-rendering="geometricPrecision" textLength="38.6" lengthAdjust="spacingAndGlyphs">3235.330</text>
<rect x="1679" y="570" width="2" height="1" fill="#000"/>
<text x="1684" y="574" font-size="9.7" fill="#000" stroke="#000" stroke-width="0.15" text-rendering="geometricPrecision" textLength="38.6" lengthAdjust="spacingAndGlyphs">3211.240</text>
<rect x="1679" y="603" width="2" height="1" fill="#000"/>
<text x="1684" y="607" font-size="9.7" fill="#000" stroke="#000" stroke-width="0.15" text-rendering="geometricPrecision" textLength="38.6" lengthAdjust="spacingAndGlyphs">3187.150</text>
<rect x="1680" y="129" width="42" height="11" fill="#ff0000"/>
<text x="1684" y="138" font-size="9.7" fill="#fff" stroke="#fff" stroke-width="0.15" text-rendering="geometricPrecision" textLength="38.6" lengthAdjust="spacingAndGlyphs">3530.000</text>
<rect x="1680" y="238" width="42" height="11" fill="#ff0000"/>
<text x="1684" y="247" font-size="9.7" fill="#fff" stroke="#fff" stroke-width="0.15" text-rendering="geometricPrecision" textLength="38.6" lengthAdjust="spacingAndGlyphs">3450.000</text>
<rect x="1680" y="333" width="42" height="11" fill="#32cd32"/>
<text x="1684" y="342" font-size="9.7" fill="#fff" stroke="#fff" stroke-width="0.15" text-rendering="geometricPrecision" textLength="38.6" lengthAdjust="spacingAndGlyphs">3380.000</text>
<rect x="1680" y="369" width="42" height="11" fill="#000000"/>
<text x="1684" y="378" font-size="9.7" fill="#fff" stroke="#fff" stroke-width="0.15" text-rendering="geometricPrecision" textLength="38.6" lengthAdjust="spacingAndGlyphs">3354.750</text>
<rect x="1680" y="443" width="42" height="11" fill="#4169e1"/>
<text x="1684" y="452" font-size="9.7" fill="#fff" stroke="#fff" stroke-width="0.15" text-rendering="geometricPrecision" textLength="38.6" lengthAdjust="spacingAndGlyphs">3300.000</text>
<rect x="11" y="668" width="1" height="9" fill="#c0c0c0"/>
<rect x="19" y="668" width="1" height="6" fill="#c0c0c0"/>
<rect x="27" y="668" width="1" height="4" fill="#c0c0c0"/>
<rect x="35" y="668" width="1" height="3" fill="#c0c0c0"/>
<rect x="43" y="668" width="1" height="3" fill="#c0c0c0"/>
<rect x="51" y="668" width="1" height="2" fill="#c0c0c0"/>
<rect x="59" y="668" width="1" height="5" fill="#c0c0c0"/>
<rect x="67" y="668" width="1" height="6" fill="#c0c0c0"/>
<rect x="75" y="668" width="1" height="7" fill="#c0c0c0"/>
<rect x="83" y="668" width="1" height="7" fill="#c0c0c0"/>
<rect x="91" y="668" width="1" height="7" fill="#c0c0c0"/>
<rect x="99" y="668" width="1" height="4" fill="#c0c0c0"/>
<rect x="115" y="664" width="1" height="5" fill="#c0c0c0"/>
<rect x="123" y="662" width="1" height="7" fill="#c0c0c0"/>
<rect x="131" y="663" width="1" height="6" fill="#c0c0c0"/>
<rect x="139" y="664" width="1" height="5" fill="#c0c0c0"/>
<rect x="147" y="666" width="1" height="3" fill="#c0c0c0"/>
<rect x="155" y="665" width="1" height="4" fill="#c0c0c0"/>
<rect x="163" y="659" width="1" height="10" fill="#c0c0c0"/>
<rect x="171" y="656" width="1" height="13" fill="#c0c0c0"/>
<rect x="179" y="655" width="1" height="14" fill="#c0c0c0"/>
<rect x="187" y="653" width="1" height="16" fill="#c0c0c0"/>
<rect x="195" y="657" width="1" height="12" fill="#c0c0c0"/>
<rect x="203" y="654" width="1" height="15" fill="#c0c0c0"/>
<rect x="211" y="653" width="1" height="16" fill="#c0c0c0"/>
<rect x="219" y="651" width="1" height="18" fill="#c0c0c0"/>
<rect x="227" y="651" width="1" height="18" fill="#c0c0c0"/>
<rect x="235" y="651" width="1" height="18" fill="#c0c0c0"/>
<rect x="243" y="647" width="1" height="22" fill="#c0c0c0"/>
<rect x="251" y="644" width="1" height="25" fill="#c0c0c0"/>
<rect x="259" y="642" width="1" height="27" fill="#c0c0c0"/>
<rect x="267" y="641" width="1" height="28" fill="#c0c0c0"/>
<rect x="275" y="640" width="1" height="29" fill="#c0c0c0"/>
<rect x="283" y="641" width="1" height="28" fill="#c0c0c0"/>
<rect x="291" y="643" width="1" height="26" fill="#c0c0c0"/>
<rect x="299" y="642" width="1" height="27" fill="#c0c0c0"/>
<rect x="307" y="640" width="1" height="29" fill="#c0c0c0"/>
<rect x="315" y="640" width="1" height="29" fill="#c0c0c0"/>
<rect x="323" y="639" width="1" height="30" fill="#c0c0c0"/>
<rect x="331" y="636" width="1" height="33" fill="#c0c0c0"/>
<rect x="339" y="633" width="1" height="36" fill="#c0c0c0"/>
<rect x="347" y="633" width="1" height="36" fill="#c0c0c0"/>
<rect x="355" y="632" width="1" height="37" fill="#c0c0c0"/>
<rect x="363" y="632" width="1" height="37" fill="#c0c0c0"/>
<rect x="371" y="633" width="1" height="36" fill="#c0c0c0"/>
<rect x="379" y="633" width="1" height="36" fill="#c0c0c0"/>
<rect x="387" y="636" width="1" height="33" fill="#c0c0c0"/>
<rect x="395" y="637" width="1" height="32" fill="#c0c0c0"/>
<rect x="403" y="633" width="1" height="36" fill="#c0c0c0"/>
<rect x="411" y="632" width="1" height="37" fill="#c0c0c0"/>
<rect x="419" y="633" width="1" height="36" fill="#c0c0c0"/>
<rect x="427" y="633" width="1" height="36" fill="#c0c0c0"/>
<rect x="435" y="635" width="1" height="34" fill="#c0c0c0"/>
<rect x="443" y="635" width="1" height="34" fill="#c0c0c0"/>
<rect x="451" y="635" width="1" height="34" fill="#c0c0c0"/>
<rect x="459" y="634" width="1" height="35" fill="#c0c0c0"/>
<rect x="467" y="635" width="1" height="34" fill="#c0c0c0"/>
<rect x="475" y="635" width="1" height="34" fill="#c0c0c0"/>
<rect x="483" y="636" width="1" height="33" fill="#c0c0c0"/>
<rect x="491" y="636" width="1" height="33" fill="#c0c0c0"/>
<rect x="499" y="637" width="1" height="32" fill="#c0c0c0"/>
<rect x="507" y="637" width="1" height="32" fill="#c0c0c0"/>
<rect x="515" y="638" width="1" height="31" fill="#c0c0c0"/>
<rect x="523" y="637" width="1" height="32" fill="#c0c0c0"/>
<rect x="531" y="636" width="1" height="33" fill="#c0c0c0"/>
<rect x="539" y="636" width="1" height="33" fill="#c0c0c0"/>
<rect x="547" y="636" width="1" height="33" fill="#c0c0c0"/>
<rect x="555" y="643" width="1" height="26" fill="#c0c0c0"/>
<rect x="563" y="647" width="1" height="22" fill="#c0c0c0"/>
<rect x="571" y="651" width="1" height="18" fill="#c0c0c0"/>
<rect x="579" y="651" width="1" height="18" fill="#c0c0c0"/>
<rect x="587" y="652" width="1" height="17" fill="#c0c0c0"/>
<rect x="595" y="649" width="1" height="20" fill="#c0c0c0"/>
<rect x="603" y="647" width="1" height="22" fill="#c0c0c0"/>
<rect x="611" y="647" width="1" height="22" fill="#c0c0c0"/>
<rect x="619" y="646" width="1" height="23" fill="#c0c0c0"/>
<rect x="627" y="647" width="1" height="22" fill="#c0c0c0"/>
<rect x="635" y="648" width="1" height="21" fill="#c0c0c0"/>
<rect x="643" y="646" width="1" height="23" fill="#c0c0c0"/>
<rect x="651" y="647" width="1" height="22" fill="#c0c0c0"/>
<rect x="659" y="646" width="1" height="23" fill="#c0c0c0"/>
<rect x="667" y="648" width="1" height="21" fill="#c0c0c0"/>
<rect x="675" y="650" width="1" height="19" fill="#c0c0c0"/>
<rect x="683" y="652" width="1" height="17" fill="#c0c0c0"/>
<rect x="691" y="652" width="1" height="17" fill="#c0c0c0"/>
<rect x="699" y="654" width="1" height="15" fill="#c0c0c0"/>
<rect x="707" y="655" width="1" height="14" fill="#c0c0c0"/>
<rect x="715" y="656" width="1" height="13" fill="#c0c0c0"/>
<rect x="723" y="656" width="1" height="13" fill="#c0c0c0"/>
<rect x="731" y="656" width="1" height="13" fill="#c0c0c0"/>
<rect x="739" y="656" width="1" height="13" fill="#c0c0c0"/>
<rect x="747" y="655" width="1" height="14" fill="#c0c0c0"/>
<rect x="755" y="654" width="1" height="15" fill="#c0c0c0"/>
<rect x="763" y="654" width="1" height="15" fill="#c0c0c0"/>
<rect x="771" y="654" width="1" height="15" fill="#c0c0c0"/>
<rect x="779" y="654" width="1" height="15" fill="#c0c0c0"/>
<rect x="787" y="655" width="1" height="14" fill="#c0c0c0"/>
<rect x="795" y="655" width="1" height="14" fill="#c0c0c0"/>
<rect x="803" y="655" width="1" height="14" fill="#c0c0c0"/>
<rect x="811" y="654" width="1" height="15" fill="#c0c0c0"/>
<rect x="819" y="654" width="1" height="15" fill="#c0c0c0"/>
<rect x="827" y="654" width="1" height="15" fill="#c0c0c0"/>
<rect x="835" y="652" width="1" height="17" fill="#c0c0c0"/>
<rect x="843" y="652" width="1" height="17" fill="#c0c0c0"/>
<rect x="851" y="656" width="1" height="13" fill="#c0c0c0"/>
<rect x="859" y="660" width="1" height="9" fill="#c0c0c0"/>
<rect x="867" y="665" width="1" height="4" fill="#c0c0c0"/>
<rect x="907" y="665" width="1" height="4" fill="#c0c0c0"/>
<rect x="915" y="664" width="1" height="5" fill="#c0c0c0"/>
<rect x="923" y="663" width="1" height="6" fill="#c0c0c0"/>
<rect x="931" y="665" width="1" height="4" fill="#c0c0c0"/>
<rect x="939" y="666" width="1" height="3" fill="#c0c0c0"/>
<rect x="947" y="664" width="1" height="5" fill="#c0c0c0"/>
<rect x="955" y="662" width="1" height="7" fill="#c0c0c0"/>
<rect x="963" y="660" width="1" height="9" fill="#c0c0c0"/>
<rect x="971" y="658" width="1" height="11" fill="#c0c0c0"/>
<rect x="979" y="654" width="1" height="15" fill="#c0c0c0"/>
<rect x="987" y="650" width="1" height="19" fill="#c0c0c0"/>
<rect x="995" y="648" width="1" height="21" fill="#c0c0c0"/>
<rect x="1003" y="645" width="1" height="24" fill="#c0c0c0"/>
<rect x="1011" y="642" width="1" height="27" fill="#c0c0c0"/>
<rect x="1019" y="638" width="1" height="31" fill="#c0c0c0"/>
<rect x="1027" y="635" width="1" height="34" fill="#c0c0c0"/>
<rect x="1035" y="634" width="1" height="35" fill="#c0c0c0"/>
<rect x="1043" y="635" width="1" height="34" fill="#c0c0c0"/>
<rect x="1051" y="635" width="1" height="34" fill="#c0c0c0"/>
<rect x="1059" y="634" width="1" height="35" fill="#c0c0c0"/>
<rect x="1067" y="635" width="1" height="34" fill="#c0c0c0"/>
<rect x="1075" y="636" width="1" height="33" fill="#c0c0c0"/>
<rect x="1083" y="636" width="1" height="33" fill="#c0c0c0"/>
<rect x="1091" y="634" width="1" height="35" fill="#c0c0c0"/>
<rect x="1099" y="631" width="1" height="38" fill="#c0c0c0"/>
<rect x="1107" y="628" width="1" height="41" fill="#c0c0c0"/>
<rect x="1115" y="627" width="1" height="42" fill="#c0c0c0"/>
<rect x="1123" y="626" width="1" height="43" fill="#c0c0c0"/>
<rect x="1131" y="627" width="1" height="42" fill="#c0c0c0"/>
<rect x="1139" y="624" width="1" height="45" fill="#c0c0c0"/>
<rect x="1147" y="625" width="1" height="44" fill="#c0c0c0"/>
<rect x="1155" y="624" width="1" height="45" fill="#c0c0c0"/>
<rect x="1163" y="621" width="1" height="48" fill="#c0c0c0"/>
<rect x="1171" y="622" width="1" height="47" fill="#c0c0c0"/>
<rect x="1179" y="622" width="1" height="47" fill="#c0c0c0"/>
<rect x="1187" y="623" width="1" height="46" fill="#c0c0c0"/>
<rect x="1195" y="624" width="1" height="45" fill="#c0c0c0"/>
<rect x="1203" y="622" width="1" height="47" fill="#c0c0c0"/>
<rect x="1211" y="622" width="1" height="47" fill="#c0c0c0"/>
<rect x="1219" y="622" width="1" height="47" fill="#c0c0c0"/>
<rect x="1227" y="622" width="1" height="47" fill="#c0c0c0"/>
<rect x="1235" y="624" width="1" height="45" fill="#c0c0c0"/>
<rect x="1243" y="627" width="1" height="42" fill="#c0c0c0"/>
<rect x="1251" y="631" width="1" height="38" fill="#c0c0c0"/>
<rect x="1259" y="635" width="1" height="34" fill="#c0c0c0"/>
<rect x="1267" y="637" width="1" height="32" fill="#c0c0c0"/>
<rect x="1275" y="638" width="1" height="31" fill="#c0c0c0"/>
<rect x="1283" y="640" width="1" height="29" fill="#c0c0c0"/>
<rect x="1291" y="641" width="1" height="28" fill="#c0c0c0"/>
<rect x="1299" y="640" width="1" height="29" fill="#c0c0c0"/>
<rect x="1307" y="637" width="1" height="32" fill="#c0c0c0"/>
<rect x="1315" y="636" width="1" height="33" fill="#c0c0c0"/>
<rect x="1323" y="633" width="1" height="36" fill="#c0c0c0"/>
<rect x="1331" y="632" width="1" height="37" fill="#c0c0c0"/>
<rect x="1339" y="631" width="1" height="38" fill="#c0c0c0"/>
<rect x="1347" y="625" width="1" height="44" fill="#c0c0c0"/>
<rect x="1355" y="621" width="1" height="48" fill="#c0c0c0"/>
<rect x="1363" y="619" width="1" height="50" fill="#c0c0c0"/>
<rect x="1371" y="617" width="1" height="52" fill="#c0c0c0"/>
<rect x="1379" y="619" width="1" height="50" fill="#c0c0c0"/>
<rect x="1387" y="635" width="1" height="34" fill="#c0c0c0"/>
<rect x="1395" y="652" width="1" height="17" fill="#c0c0c0"/>
<rect x="1411" y="668" width="1" height="12" fill="#c0c0c0"/>
<rect x="1419" y="668" width="1" height="16" fill="#c0c0c0"/>
<rect x="1427" y="668" width="1" height="23" fill="#c0c0c0"/>
<rect x="1435" y="668" width="1" height="38" fill="#c0c0c0"/>
<rect x="1443" y="668" width="1" height="43" fill="#c0c0c0"/>
<rect x="1451" y="668" width="1" height="48" fill="#c0c0c0"/>
<rect x="1459" y="668" width="1" height="53" fill="#c0c0c0"/>
<rect x="1467" y="668" width="1" height="55" fill="#c0c0c0"/>
<rect x="1475" y="668" width="1" height="58" fill="#c0c0c0"/>
<rect x="1483" y="668" width="1" height="56" fill="#c0c0c0"/>
<rect x="1491" y="668" width="1" height="52" fill="#c0c0c0"/>
<rect x="1499" y="668" width="1" height="49" fill="#c0c0c0"/>
<rect x="1507" y="668" width="1" height="45" fill="#c0c0c0"/>
<rect x="1515" y="668" width="1" height="43" fill="#c0c0c0"/>
<rect x="1523" y="668" width="1" height="40" fill="#c0c0c0"/>
<rect x="1531" y="668" width="1" height="45" fill="#c0c0c0"/>
<rect x="1539" y="668" width="1" height="54" fill="#c0c0c0"/>
<rect x="1547" y="668" width="1" height="64" fill="#c0c0c0"/>
<rect x="1555" y="668" width="1" height="72" fill="#c0c0c0"/>
<rect x="1563" y="668" width="1" height="75" fill="#c0c0c0"/>
<rect x="1571" y="668" width="1" height="74" fill="#c0c0c0"/>
<rect x="1579" y="668" width="1" height="71" fill="#c0c0c0"/>
<rect x="1587" y="668" width="1" height="62" fill="#c0c0c0"/>
<rect x="1595" y="668" width="1" height="54" fill="#c0c0c0"/>
<rect x="1603" y="668" width="1" height="46" fill="#c0c0c0"/>
<rect x="1611" y="668" width="1" height="42" fill="#c0c0c0"/>
<rect x="1619" y="668" width="1" height="40" fill="#c0c0c0"/>
<rect x="1627" y="668" width="1" height="36" fill="#c0c0c0"/>
<rect x="1635" y="668" width="1" height="32" fill="#c0c0c0"/>
<rect x="1643" y="668" width="1" height="38" fill="#c0c0c0"/>
<rect x="1651" y="668" width="1" height="41" fill="#c0c0c0"/>
<rect x="1659" y="668" width="1" height="41" fill="#c0c0c0"/>
<polyline points="3.5,680.2 33.0,680.7 50.5,676.4 82.9,673.9 115.4,672.7 130.3,669.4 160.3,665.9 190.3,659.7 220.2,656.4 240.2,653.4 260.2,649.4 290.1,644.0 315.1,640.7 335.1,639.0 360.1,636.0 375.0,634.0 405.0,633.5 412.5,632.7 423.5,633.5 448.0,633.5 451.7,634.7 456.7,633.5 480.5,634.0 505.5,635.2 550.3,636.0 570.3,638.5 577.8,641.5 592.8,643.2 602.8,646.0 620.3,647.7 645.2,647.7 652.7,646.5 680.2,647.0 695.2,647.7 710.1,650.2 735.1,652.7 745.1,654.5 780.1,654.7 805.0,654.5 835.0,653.5 843.5,653.2 868.0,653.9 875.5,656.5 890.5,660.2 910.5,663.9 930.5,666.9 945.4,666.5 970.3,662.7 995.3,658.5 1012.8,653.9 1022.8,649.5 1037.8,644.0 1052.7,639.0 1077.7,636.0 1107.7,633.5 1125.1,631.5 1150.1,628.2 1175.1,624.5 1200.1,623.2 1240.0,622.7 1251.5,625.2 1263.0,626.0 1280.5,629.5 1300.5,634.5 1317.9,637.0 1337.9,636.0 1350.4,633.5 1367.9,629.5 1380.3,626.0 1389.1,626.0 1400.3,629.5 1415.3,639.5 1425.3,649.5 1437.8,662.7 1450.3,680.2 1462.7,695.1 1475.2,706.9 1490.2,715.1 1502.7,719.4 1517.7,719.6 1532.6,718.1 1542.6,718.1 1555.1,720.9 1565.1,722.6 1577.6,728.3 1587.6,730.1 1597.6,732.6 1605.1,733.1 1620.0,728.8 1635.0,720.1 1650.0,712.6 1659.0,709.6" fill="none" stroke="#ff0000" stroke-width="1" stroke-dasharray="3 3"/>
<text x="7.4" y="621" font-size="9.7" fill="#000" stroke="#000" stroke-width="0.15" text-rendering="geometricPrecision" textLength="142.9" lengthAdjust="spacingAndGlyphs">MACD(12,26,9) -20.1613 -20.2602</text>
<rect x="1679" y="610" width="1" height="1" fill="#000"/>
<text x="1682" y="619" font-size="9.7" fill="#000" stroke="#000" stroke-width="0.15" text-rendering="geometricPrecision" textLength="33.5" lengthAdjust="spacingAndGlyphs">28.5114</text>
<rect x="1679" y="668" width="1" height="1" fill="#000"/>
<text x="1682" y="672" font-size="9.7" fill="#000" stroke="#000" stroke-width="0.15" text-rendering="geometricPrecision" textLength="18.2" lengthAdjust="spacingAndGlyphs">0.00</text>
<text x="1682" y="747" font-size="9.7" fill="#000" stroke="#000" stroke-width="0.15" text-rendering="geometricPrecision" textLength="36.9" lengthAdjust="spacingAndGlyphs">-39.9869</text>
<line x1="3" y1="789.5" x2="1678" y2="789.5" stroke="#c0c0c0" stroke-width="1" stroke-dasharray="3 3"/>
<rect x="1679" y="789" width="1" height="1" fill="#000"/>
<line x1="3" y1="836.5" x2="1678" y2="836.5" stroke="#c0c0c0" stroke-width="1" stroke-dasharray="3 3"/>
<rect x="1679" y="836" width="1" height="1" fill="#000"/>
<polyline points="3.5,818.4 11.5,810.9 19.5,808.9 27.5,809.7 35.5,810.9 43.5,817.9 51.5,813.4 59.5,820.9 67.5,817.9 75.5,820.9 83.5,815.9 91.5,815.9 99.5,808.4 107.5,800.9 115.5,800.9 123.5,802.2 131.5,814.7 139.5,814.7 147.5,814.7 155.5,808.4 163.5,797.2 171.5,801.7 179.5,805.2 187.5,802.9 195.5,815.9 203.5,803.9 211.5,803.9 219.5,803.9 227.5,805.2 235.5,803.9 243.5,796.7 251.5,794.7 259.5,796.7 267.5,796.7 275.5,796.7 283.5,801.4 291.5,805.9 299.5,798.4 307.5,795.2 315.5,795.9 323.5,794.7 331.5,789.2 339.5,787.7 347.5,792.2 355.5,790.9 363.5,791.7 371.5,793.9 379.5,790.9 387.5,804.7 395.5,800.2 403.5,789.7 411.5,791.7 419.5,800.4 427.5,795.9 435.5,800.9 443.5,799.7 451.5,795.9 459.5,795.9 467.5,797.9 475.5,795.2 483.5,795.2 491.5,796.7 499.5,796.7 507.5,793.9 515.5,795.9 523.5,792.2 531.5,788.9 539.5,788.5 547.5,791.4 555.5,818.9 563.5,814.7 571.5,815.9 579.5,805.2 587.5,805.2 595.5,797.9 603.5,796.7 611.5,798.4 619.5,800.9 627.5,800.9 635.5,802.9 643.5,797.9 651.5,803.4 659.5,799.7 667.5,802.2 675.5,810.9 683.5,807.9 691.5,805.9 699.5,806.7 707.5,810.9 715.5,806.4 723.5,804.7 731.5,803.9 739.5,805.2 747.5,800.9 755.5,802.2 763.5,797.2 771.5,802.2 779.5,806.7 787.5,802.2 795.5,801.7 803.5,799.7 811.5,797.7 819.5,795.4 827.5,796.4 835.5,797.9 843.5,794.7 851.5,817.9 859.5,823.4 867.5,828.9 875.5,823.4 883.5,821.7 891.5,810.4 899.5,806.4 907.5,802.7 915.5,802.7 923.5,808.4 931.5,821.7 939.5,810.9 947.5,803.9 955.5,805.2 963.5,802.2 971.5,800.9 979.5,795.9 987.5,791.7 995.5,795.9 1003.5,792.2 1011.5,789.7 1019.5,787.2 1027.5,786.0 1035.5,788.5 1043.5,800.9 1051.5,795.9 1059.5,793.9 1067.5,795.9 1075.5,795.9 1083.5,795.9 1091.5,789.2 1099.5,784.2 1107.5,782.7 1115.5,784.7 1123.5,784.7 1131.5,788.9 1139.5,781.0 1147.5,791.7 1155.5,787.7 1163.5,784.0 1171.5,793.9 1179.5,791.7 1187.5,795.9 1195.5,792.2 1203.5,792.2 1211.5,788.0 1219.5,786.7 1227.5,790.4 1235.5,794.2 1243.5,801.7 1251.5,803.9 1259.5,805.2 1267.5,801.7 1275.5,797.2 1283.5,802.7 1291.5,801.7 1299.5,794.7 1307.5,790.9 1315.5,790.9 1323.5,788.0 1331.5,786.7 1339.5,786.7 1347.5,778.5 1355.5,776.7 1363.5,782.7 1371.5,781.7 1379.5,792.9 1387.5,827.9 1395.5,833.4 1403.5,837.6 1411.5,833.4 1419.5,823.4 1427.5,827.7 1435.5,837.9 1443.5,827.9 1451.5,828.9 1459.5,830.9 1467.5,827.9 1475.5,829.6 1483.5,825.2 1491.5,820.9 1499.5,820.9 1507.5,818.9 1515.5,822.2 1523.5,820.2 1531.5,831.6 1539.5,835.4 1547.5,839.6 1555.5,840.9 1563.5,835.4 1571.5,830.4 1579.5,827.2 1587.5,815.9 1595.5,816.7 1603.5,813.9 1611.5,818.4 1619.5,820.2 1627.5,817.9 1635.5,816.7 1643.5,828.9 1651.5,827.2 1659.5,823.9" fill="none" stroke="#1e90ff" stroke-width="1"/>
<text x="7.4" y="765" font-size="9.7" fill="#000" stroke="#000" stroke-width="0.15" text-rendering="geometricPrecision" textLength="68.3" lengthAdjust="spacingAndGlyphs">RSI(14) 41.1217</text>
<text x="1682" y="763" font-size="9.7" fill="#000" stroke="#000" stroke-width="0.15" text-rendering="geometricPrecision" textLength="15.3" lengthAdjust="spacingAndGlyphs">100</text>
<text x="1682" y="793" font-size="9.7" fill="#000" stroke="#000" stroke-width="0.15" text-rendering="geometricPrecision" textLength="10.2" lengthAdjust="spacingAndGlyphs">70</text>
<text x="1682" y="840" font-size="9.7" fill="#000" stroke="#000" stroke-width="0.15" text-rendering="geometricPrecision" textLength="10.2" lengthAdjust="spacingAndGlyphs">30</text>
<text x="1682" y="869" font-size="9.7" fill="#000" stroke="#000" stroke-width="0.15" text-rendering="geometricPrecision" textLength="5.1" lengthAdjust="spacingAndGlyphs">0</text>
<rect x="3" y="873" width="1" height="3" fill="#000"/>
<text x="2" y="885" font-size="9.7" fill="#000" stroke="#000" stroke-width="0.15" text-rendering="geometricPrecision" textLength="46.7" lengthAdjust="spacingAndGlyphs">27 Jul 2020</text>
<rect x="67" y="873" width="1" height="3" fill="#000"/>
<text x="66" y="885" font-size="9.7" fill="#000" stroke="#000" stroke-width="0.15" text-rendering="geometricPrecision" textLength="49.9" lengthAdjust="spacingAndGlyphs">28 Jul 20:00</text>
<rect x="131" y="873" width="1" height="3" fill="#000"/>
<text x="130" y="885" font-size="9.7" fill="#000" stroke="#000" stroke-width="0.15" text-rendering="geometricPrecision" textLength="49.9" lengthAdjust="spacingAndGlyphs">30 Jul 04:00</text>
<rect x="195" y="873" width="1" height="3" fill="#000"/>
<text x="194" y="885" font-size="9.7" fill="#000" stroke="#000" stroke-width="0.15" text-rendering="geometricPrecision" textLength="49.9" lengthAdjust="spacingAndGlyphs">31 Jul 12:00</text>
<rect x="259" y="873" width="1" height="3" fill="#000"/>
<text x="258" y="885" font-size="9.7" fill="#000" stroke="#000" stroke-width="0.15" text-rendering="geometricPrecision" textLength="51.3" lengthAdjust="spacingAndGlyphs">3 Aug 16:00</text>
<rect x="323" y="873" width="1" height="3" fill="#000"/>
<text x="322" y="885" font-size="9.7" fill="#000" stroke="#000" stroke-width="0.15" text-rendering="geometricPrecision" textLength="51.3" lengthAdjust="spacingAndGlyphs">5 Aug 00:00</text>
<rect x="387" y="873" width="1" height="3" fill="#000"/>
<text x="386" y="885" font-size="9.7" fill="#000" stroke="#000" stroke-width="0.15" text-rendering="geometricPrecision" textLength="51.3" lengthAdjust="spacingAndGlyphs">6 Aug 08:00</text>
<rect x="451" y="873" width="1" height="3" fill="#000"/>
<text x="450" y="885" font-size="9.7" fill="#000" stroke="#000" stroke-width="0.15" text-rendering="geometricPrecision" textLength="51.3" lengthAdjust="spacingAndGlyphs">7 Aug 16:00</text>
<rect x="515" y="873" width="1" height="3" fill="#000"/>
<text x="514" y="885" font-size="9.7" fill="#000" stroke="#000" stroke-width="0.15" text-rendering="geometricPrecision" textLength="56.5" lengthAdjust="spacingAndGlyphs">10 Aug 20:00</text>
<rect x="579" y="873" width="1" height="3" fill="#000"/>
<text x="578" y="885" font-size="9.7" fill="#000" stroke="#000" stroke-width="0.15" text-rendering="geometricPrecision" textLength="56.5" lengthAdjust="spacingAndGlyphs">12 Aug 04:00</text>
<rect x="643" y="873" width="1" height="3" fill="#000"/>
<text x="642" y="885" font-size="9.7" fill="#000" stroke="#000" stroke-width="0.15" text-rendering="geometricPrecision" textLength="56.5" lengthAdjust="spacingAndGlyphs">13 Aug 12:00</text>
<rect x="707" y="873" width="1" height="3" fill="#000"/>
<text x="706" y="885" font-size="9.7" fill="#000" stroke="#000" stroke-width="0.15" text-rendering="geometricPrecision" textLength="56.5" lengthAdjust="spacingAndGlyphs">14 Aug 20:00</text>
<rect x="771" y="873" width="1" height="3" fill="#000"/>
<text x="770" y="885" font-size="9.7" fill="#000" stroke="#000" stroke-width="0.15" text-rendering="geometricPrecision" textLength="56.5" lengthAdjust="spacingAndGlyphs">18 Aug 00:00</text>
<rect x="835" y="873" width="1" height="3" fill="#000"/>
<text x="834" y="885" font-size="9.7" fill="#000" stroke="#000" stroke-width="0.15" text-rendering="geometricPrecision" textLength="56.5" lengthAdjust="spacingAndGlyphs">19 Aug 08:00</text>
<rect x="899" y="873" width="1" height="3" fill="#000"/>
<text x="898" y="885" font-size="9.7" fill="#000" stroke="#000" stroke-width="0.15" text-rendering="geometricPrecision" textLength="56.5" lengthAdjust="spacingAndGlyphs">20 Aug 16:00</text>
<rect x="963" y="873" width="1" height="3" fill="#000"/>
<text x="962" y="885" font-size="9.7" fill="#000" stroke="#000" stroke-width="0.15" text-rendering="geometricPrecision" textLength="56.5" lengthAdjust="spacingAndGlyphs">23 Aug 23:00</text>
<rect x="1027" y="873" width="1" height="3" fill="#000"/>
<text x="1026" y="885" font-size="9.7" fill="#000" stroke="#000" stroke-width="0.15" text-rendering="geometricPrecision" textLength="56.5" lengthAdjust="spacingAndGlyphs">25 Aug 04:00</text>
<rect x="1091" y="873" width="1" height="3" fill="#000"/>
<text x="1090" y="885" font-size="9.7" fill="#000" stroke="#000" stroke-width="0.15" text-rendering="geometricPrecision" textLength="56.5" lengthAdjust="spacingAndGlyphs">26 Aug 12:00</text>
<rect x="1155" y="873" width="1" height="3" fill="#000"/>
<text x="1154" y="885" font-size="9.7" fill="#000" stroke="#000" stroke-width="0.15" text-rendering="geometricPrecision" textLength="56.5" lengthAdjust="spacingAndGlyphs">27 Aug 20:00</text>
<rect x="1219" y="873" width="1" height="3" fill="#000"/>
<text x="1218" y="885" font-size="9.7" fill="#000" stroke="#000" stroke-width="0.15" text-rendering="geometricPrecision" textLength="56.5" lengthAdjust="spacingAndGlyphs">31 Aug 00:00</text>
<rect x="1283" y="873" width="1" height="3" fill="#000"/>
<text x="1282" y="885" font-size="9.7" fill="#000" stroke="#000" stroke-width="0.15" text-rendering="geometricPrecision" textLength="48.9" lengthAdjust="spacingAndGlyphs">1 Sep 08:00</text>
<rect x="1347" y="873" width="1" height="3" fill="#000"/>
<text x="1346" y="885" font-size="9.7" fill="#000" stroke="#000" stroke-width="0.15" text-rendering="geometricPrecision" textLength="48.9" lengthAdjust="spacingAndGlyphs">2 Sep 16:00</text>
<rect x="1411" y="873" width="1" height="3" fill="#000"/>
<text x="1410" y="885" font-size="9.7" fill="#000" stroke="#000" stroke-width="0.15" text-rendering="geometricPrecision" textLength="48.9" lengthAdjust="spacingAndGlyphs">4 Sep 00:00</text>
<rect x="1475" y="873" width="1" height="3" fill="#000"/>
<text x="1474" y="885" font-size="9.7" fill="#000" stroke="#000" stroke-width="0.15" text-rendering="geometricPrecision" textLength="48.9" lengthAdjust="spacingAndGlyphs">7 Sep 04:00</text>
<rect x="1539" y="873" width="1" height="3" fill="#000"/>
<text x="1538" y="885" font-size="9.7" fill="#000" stroke="#000" stroke-width="0.15" text-rendering="geometricPrecision" textLength="48.9" lengthAdjust="spacingAndGlyphs">8 Sep 12:00</text>
<rect x="1603" y="873" width="1" height="3" fill="#000"/>
<text x="1602" y="885" font-size="9.7" fill="#000" stroke="#000" stroke-width="0.15" text-rendering="geometricPrecision" textLength="48.9" lengthAdjust="spacingAndGlyphs">9 Sep 20:00</text>
<g shape-rendering="auto" fill="none" stroke="#e6212a" stroke-linecap="butt" stroke-linejoin="miter">
<g transform="translate(612,165) scale(0.0639)" stroke-width="35.5">
<!-- duo -->
<path d="M345,100 L135,258"/>
<path stroke-linejoin="bevel" d="M295,170 L548,170 C470,270 300,345 118,380"/>
<path d="M262,243 L335,305"/>
<path d="M425,308 C350,380 260,435 150,480"/>
<path stroke-linejoin="bevel" d="M385,352 L578,352 C490,480 330,560 128,595"/>
<path d="M318,450 L378,508"/>
<!-- kong -->
<path d="M848,108 L882,172"/>
<path d="M660,258 L660,187 L1080,187 L1080,258"/>
<path d="M815,240 L632,370"/>
<path d="M922,240 L1103,368"/>
<path d="M688,387 L1052,387"/>
<path d="M870,387 L870,557"/>
<path d="M638,557 L1102,557"/>
<!-- zhuan -->
<path d="M1143,197 L1342,197"/>
<path d="M1245,108 L1165,352 L1348,352"/>
<path d="M1267,255 L1267,603"/>
<path d="M1138,492 L1358,452"/>
<path d="M1380,202 L1617,202"/>
<path d="M1353,302 L1637,302"/>
<path stroke-linejoin="bevel" d="M1483,108 L1418,392 L1607,392 L1500,520"/>
<path d="M1393,470 L1568,592"/>
</g>
<g transform="translate(712,165) scale(0.0639)" stroke-width="35.5">
<!-- zhe -->
<path d="M98,227 L262,227"/>
<path d="M180,108 L180,540 C180,575 160,580 95,572"/>
<path d="M88,402 L248,345"/>
<path d="M565,130 L308,168 L308,380 C305,470 280,540 240,590"/>
<path d="M308,312 L583,312"/>
<path d="M472,312 L472,598"/>
<!-- dian -->
<path d="M845,100 L845,265"/>
<path d="M845,187 L1093,187"/>
<path d="M685,267 L1030,267 L1030,432 L685,432 Z"/>
<path d="M690,478 L618,588"/>
<path d="M773,474 L812,578"/>
<path d="M893,474 L937,578"/>
<path d="M1012,474 L1083,583"/>
</g>
<!-- digits 3380 -->
<g stroke-width="2.25">
<path id="d3" d="M786.6,177.6 C788.5,175.4 790.6,174.7 792.6,174.7 C796.1,174.7 798.2,177 798.2,180 C798.2,183.6 795.4,185.7 790.2,185.8 C796,185.9 799.4,188.2 799.4,192.2 C799.4,195.9 796.4,198.2 792.4,198.2 C789.4,198.2 787.2,197 785.7,194.9"/>
<use href="#d3" x="18.7"/>
<ellipse cx="830.2" cy="180.4" rx="5.3" ry="5.6"/>
<ellipse cx="830.2" cy="192.2" rx="6.3" ry="6.1"/>
<ellipse cx="850.4" cy="186.5" rx="6.9" ry="11.7"/>
</g>
</g>

</svg>
</body></html>
